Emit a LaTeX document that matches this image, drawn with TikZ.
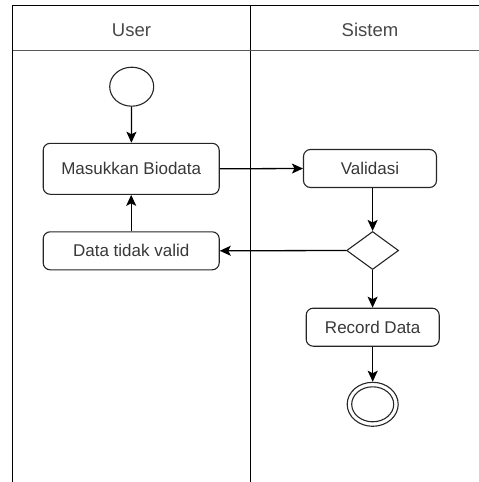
\documentclass[tikz,border=0pt]{standalone}
\usepackage{fontspec}
\setmainfont{Liberation Sans}
\usetikzlibrary{shapes.geometric,arrows.meta}
\begin{document}
\begin{tikzpicture}[x=1pt,y=-1pt,
  lane/.style={line width=1.3pt,draw=black},
  act/.style={draw=black!85,line width=1.1pt,rounded corners=7pt,fill=white,
    text=black!78,font=\fontsize{17}{19}\selectfont,inner sep=0pt},
  hdr/.style={text=black!72,font=\fontsize{18.5}{20}\selectfont,inner sep=0pt},
  flow/.style={draw=black,line width=1.3pt,-{Stealth[length=11pt,width=10pt,inset=2.5pt]}},
  circ/.style={ellipse,draw=black!85,line width=1.1pt,inner sep=0pt}]
\useasboundingbox (0,0) rectangle (479,482);
% swimlanes
\draw[lane] (12.7,482) -- (12.7,5.7) -- (480,5.7);
\draw[lane] (250.7,5.7) -- (250.7,482);
\draw[line width=1.5pt,draw=black!65] (12.7,50.5) -- (480,50.5);
\node[hdr] (huser) at (131.5,30) {User};
\node[hdr] (hsis) at (370,30) {Sistem};
% nodes
\node[circ,minimum width=44pt,minimum height=39pt] (start) at (131.7,86.7) {};
\node[act,minimum width=176pt,minimum height=51pt] (bio) at (131.2,168.8) {Masukkan Biodata};
\node[act,minimum width=133pt,minimum height=38pt] (val) at (370,168.5) {Validasi};
\node[act,minimum width=176pt,minimum height=38pt] (inv) at (131.2,250.8) {Data tidak valid};
\node[diamond,draw=black!85,line width=1.1pt,fill=white,minimum width=52pt,minimum height=38pt,inner sep=0pt] (dec) at (372.6,250.5) {};
\node[act,minimum width=133pt,minimum height=38pt] (rec) at (372.7,327.2) {Record Data};
\node[circ,minimum width=51pt,minimum height=44pt] (end) at (372.7,404.3) {};
\node[circ,minimum width=42pt,minimum height=35pt] (endin) at (end.center) {};
% connectors
\draw[flow] (start) -- (bio);
\draw[flow] (bio.east) -- (val.west);
\draw[flow] (val.south -| dec.north) -- (dec.north);
\draw[flow] (dec.west) -- (inv.east);
\draw[flow] (inv) -- (bio);
\draw[flow] (dec.south) -- (rec.north -| dec.south);
\draw[flow] (rec.south -| end.north) -- (end.north);
\end{tikzpicture}
\end{document}
